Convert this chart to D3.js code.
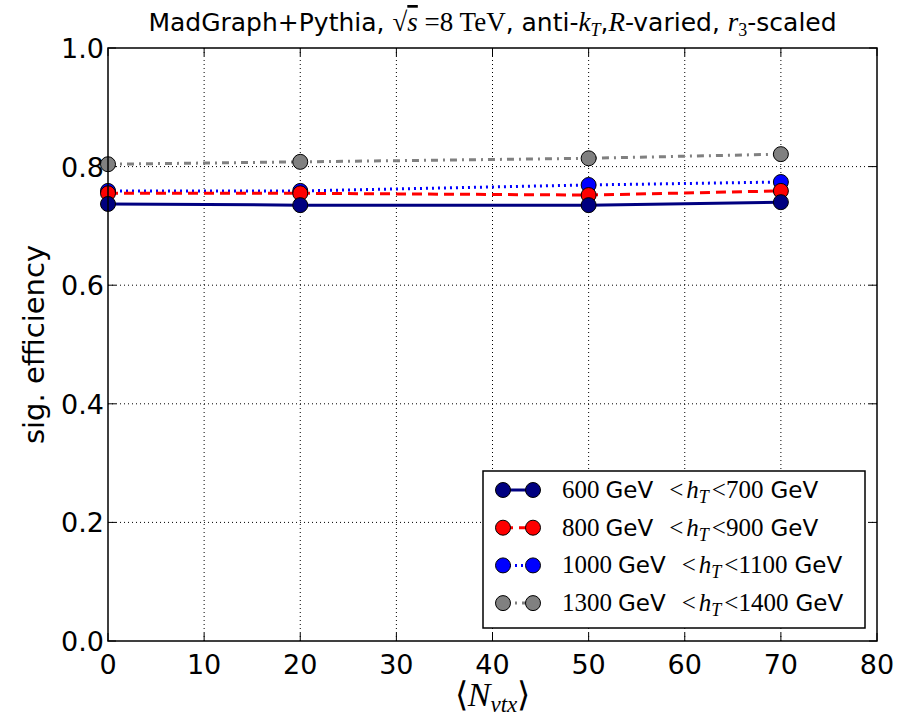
<!DOCTYPE html>
<html><head><meta charset="utf-8">
<script src="https://cdn.jsdelivr.net/npm/d3@7"></script>
<style>body{margin:0;background:#fff}</style>
</head><body>
<svg id="c" width="902" height="719"></svg>
<script>
const xVals = [0, 20, 50, 70];
const s600 = [0.737, 0.735, 0.735, 0.740];
const s800 = [0.755, 0.755, 0.752, 0.759];
const s1000 = [0.759, 0.759, 0.769, 0.774];
const s1300 = [0.804, 0.808, 0.814, 0.821];
const xTicks = [0,10,20,30,40,50,60,70,80];
const yTicks = [0,0.2,0.4,0.6,0.8,1.0];
const labels = [["600","700"],["800","900"],["1000","1100"],["1300","1400"]];

const series = [
  {v:s600, color:"#000080", dash:null, lab:labels[0]},
  {v:s800, color:"#ff0000", dash:"10,6", lab:labels[1]},
  {v:s1000, color:"#0000ff", dash:"2,4", lab:labels[2]},
  {v:s1300, color:"#808080", dash:"7,5,2,5", lab:labels[3]}
];

const svg = d3.select("#c");
const L=108,R=877,T=48,B=641;
const x = d3.scaleLinear().domain([0,80]).range([L,R]);
const y = d3.scaleLinear().domain([0,1]).range([B,T]);
const sans = "DejaVu Sans, sans-serif";
const serif = "Liberation Serif, serif";

// grid
const g = svg.append("g");
g.selectAll(".gx").data(xTicks.slice(1,-1)).join("line")
  .attr("x1",d=>x(d)).attr("x2",d=>x(d)).attr("y1",T).attr("y2",B)
  .attr("stroke","#000").attr("stroke-width",1).attr("stroke-dasharray","1,3");
g.selectAll(".gy").data(yTicks.slice(1,-1)).join("line")
  .attr("y1",d=>y(d)).attr("y2",d=>y(d)).attr("x1",L).attr("x2",R)
  .attr("stroke","#000").attr("stroke-width",1).attr("stroke-dasharray","1,3");

// ticks inside
const tk = svg.append("g");
xTicks.forEach(t=>{
  tk.append("line").attr("x1",x(t)).attr("x2",x(t)).attr("y1",B).attr("y2",B-8).attr("stroke","#000");
  tk.append("line").attr("x1",x(t)).attr("x2",x(t)).attr("y1",T).attr("y2",T+8).attr("stroke","#000");
  tk.append("text").attr("x",x(t)).attr("y",B+33).attr("text-anchor","middle")
    .attr("font-family",sans).attr("font-size",27).text(t);
});
yTicks.forEach(t=>{
  tk.append("line").attr("y1",y(t)).attr("y2",y(t)).attr("x1",L).attr("x2",L+8).attr("stroke","#000");
  tk.append("line").attr("y1",y(t)).attr("y2",y(t)).attr("x1",R).attr("x2",R-8).attr("stroke","#000");
  tk.append("text").attr("x",L-4).attr("y",y(t)+10).attr("text-anchor","end")
    .attr("font-family",sans).attr("font-size",27).text(t.toFixed(1));
});

// series
const line = d3.line().x((d,i)=>x(xVals[i])).y(d=>y(d));
series.slice().reverse().forEach(s=>{
  svg.append("path").attr("d",line(s.v)).attr("fill","none")
    .attr("stroke",s.color).attr("stroke-width",3)
    .attr("stroke-dasharray",s.dash);
});
series.slice().reverse().forEach(s=>{
  svg.selectAll(null).data(s.v).join("circle")
    .attr("cx",(d,i)=>x(xVals[i])).attr("cy",d=>y(d)).attr("r",7.5)
    .attr("fill",s.color).attr("stroke","#000").attr("stroke-width",1);
});

// frame
svg.append("rect").attr("x",L).attr("y",T).attr("width",R-L).attr("height",B-T)
  .attr("fill","none").attr("stroke","#000").attr("stroke-width",1.5);

// title
const title = svg.append("text").attr("x",(L+R)/2).attr("y",31).attr("text-anchor","middle")
  .attr("font-family",sans).attr("font-size",25);
title.append("tspan").text("MadGraph+Pythia, ");
title.append("tspan").attr("font-family",serif).attr("font-size",27).text("√");
title.append("tspan").attr("font-family",serif).attr("font-style","italic").attr("font-size",27).attr("text-decoration","overline").text("s");
title.append("tspan").attr("font-family",serif).attr("font-size",27).text(" =8 TeV");
title.append("tspan").text(", anti-");
title.append("tspan").attr("font-family",serif).attr("font-style","italic").attr("font-size",27).text("k");
title.append("tspan").attr("font-family",serif).attr("font-style","italic").attr("font-size",18).attr("dy",5).text("T");
title.append("tspan").attr("dy",-5).text(",");
title.append("tspan").attr("font-family",serif).attr("font-style","italic").attr("font-size",27).text("R");
title.append("tspan").text("-varied, ");
title.append("tspan").attr("font-family",serif).attr("font-style","italic").attr("font-size",27).text("r");
title.append("tspan").attr("font-family",serif).attr("font-size",18).attr("dy",5).text("3");
title.append("tspan").attr("dy",-5).text("-scaled");

// y label
svg.append("text").attr("transform",`translate(44,${(T+B)/2}) rotate(-90)`)
  .attr("text-anchor","middle").attr("font-family",sans).attr("font-size",29).text("sig. efficiency");

// x label
const xl = svg.append("text").attr("x",(L+R)/2).attr("y",706).attr("text-anchor","middle")
  .attr("font-family",serif).attr("font-size",34);
xl.append("tspan").text("⟨");
xl.append("tspan").attr("font-style","italic").text("N");
xl.append("tspan").attr("font-style","italic").attr("font-size",23).attr("dy",6).text("vtx");
xl.append("tspan").attr("dy",-6).text("⟩");

// legend
const lg = svg.append("g");
lg.append("rect").attr("x",483).attr("y",471).attr("width",382).attr("height",157)
  .attr("fill","#fff").attr("stroke","#000").attr("stroke-width",1.5);
series.forEach((s,i)=>{
  const yy = 490 + i*37.7;
  lg.append("line").attr("x1",503).attr("x2",533).attr("y1",yy).attr("y2",yy)
    .attr("stroke",s.color).attr("stroke-width",3).attr("stroke-dasharray",s.dash);
  [503,533].forEach(cx=>lg.append("circle").attr("cx",cx).attr("cy",yy).attr("r",7.5)
    .attr("fill",s.color).attr("stroke","#000"));
  const t = lg.append("text").attr("x",562).attr("y",yy+8).attr("font-family",sans).attr("font-size",23);
  t.append("tspan").attr("font-family",serif).attr("font-size",25).text(s.lab[0]);
  t.append("tspan").attr("dx",6).text("GeV");
  t.append("tspan").attr("dx",16).attr("font-family",serif).attr("font-size",25).text("<");
  t.append("tspan").attr("dx",3).attr("font-family",serif).attr("font-style","italic").attr("font-size",25).text("h");
  t.append("tspan").attr("font-family",serif).attr("font-style","italic").attr("font-size",18).attr("dy",5).text("T");
  t.append("tspan").attr("dx",3).attr("font-family",serif).attr("font-size",25).attr("dy",-5).text("<"+s.lab[1]);
  t.append("tspan").attr("dx",7).text("GeV");
});
</script>
</body></html>
